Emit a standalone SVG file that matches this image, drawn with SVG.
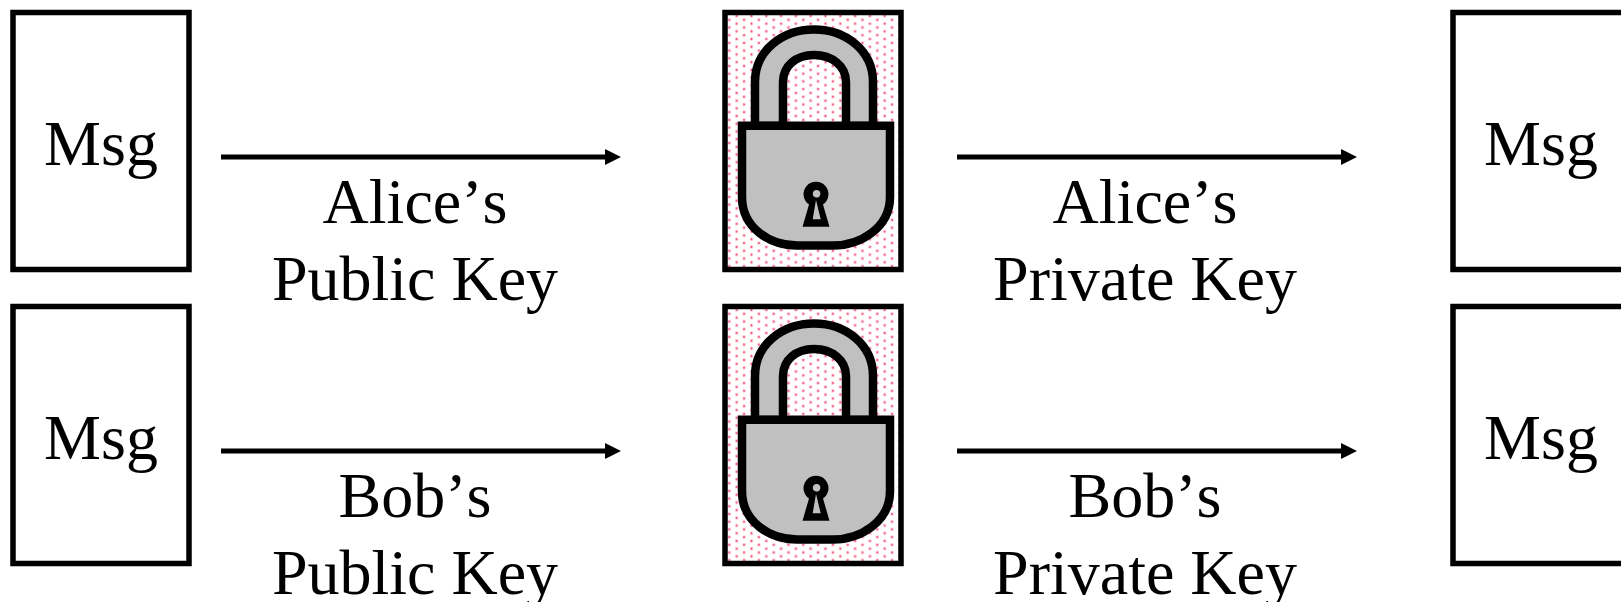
<svg xmlns="http://www.w3.org/2000/svg" width="1621" height="602" viewBox="0 0 1621 602">
<style>
.box{fill:#fff;stroke:#000;stroke-width:5.5}
.t{font-family:"Liberation Serif","Times New Roman",serif;font-size:64px;fill:#000;text-anchor:middle;font-kerning:none}
.conn{stroke:#000;stroke-width:5;fill:none;marker-end:url(#ah)}
.lk{fill:#c0c0c0;stroke:#000;stroke-width:8.500;stroke-linejoin:miter}
.h{fill:#fdd5de}
.c{fill:#f2406c}
</style>
<defs>
<marker id="ah" markerUnits="userSpaceOnUse" markerWidth="16" markerHeight="16" refX="0" refY="8" orient="auto"><path d="M0 0L16 8L0 16Z" fill="#000"/></marker>
<pattern id="dots" patternUnits="userSpaceOnUse" x="729.300" y="66" width="14.800" height="7.700">
<rect width="14.800" height="7.700" fill="#fff"/>
<circle class="h" cx="7.400" cy="3.850" r="1.900"/><circle class="c" cx="7.400" cy="3.850" r="0.950"/>
<circle class="h" cx="0" cy="0" r="1.900"/><circle class="h" cx="14.800" cy="0" r="1.900"/><circle class="h" cx="0" cy="7.700" r="1.900"/><circle class="h" cx="14.800" cy="7.700" r="1.900"/>
<circle class="c" cx="0" cy="0" r="0.950"/><circle class="c" cx="14.800" cy="0" r="0.950"/><circle class="c" cx="0" cy="7.700" r="0.950"/><circle class="c" cx="14.800" cy="7.700" r="0.950"/>
</pattern>
<g id="lock">
<rect class="box" x="725" y="12.500" width="176" height="257" style="fill:url(#dots)"/>
<path class="lk" d="M755 126V82C755 50 783 29.500 814 29.500C845 29.500 873 50 873 82V126H846V82C846 66 832 55 814 55C796 55 783 66 783 82V126Z"/>
<path class="lk" d="M742 125.700H890V197C890 228 860 245.500 833 245.500H797C770 245.500 742 228 742 197Z"/>
<path d="M809 204.500A12.500 12.500 0 1 1 823 204.500L829.500 226.700H802.500Z" fill="#000"/>
<path d="M816 197.500A3.800 3.800 0 1 0 816 190A3.800 3.800 0 0 0 816 197.500ZM816 200L812.700 219.300H820.700Z" fill="#c0c0c0"/>
</g>
</defs>
<g id="connectors">
<line class="conn" x1="221" y1="157" x2="605" y2="157"/>
<line class="conn" x1="957" y1="157" x2="1341" y2="157"/>
<line class="conn" x1="221" y1="451" x2="605" y2="451"/>
<line class="conn" x1="957" y1="451" x2="1341" y2="451"/>
</g>
<g id="msg-a-left"><rect class="box" x="13" y="12.500" width="176" height="257"/><text class="t" x="101" y="165">Msg</text></g>
<g id="msg-b-left"><rect class="box" x="13" y="306.500" width="176" height="257"/><text class="t" x="101" y="459">Msg</text></g>
<g id="cipher-a"><use href="#lock"/></g>
<g id="cipher-b"><use href="#lock" y="294"/></g>
<g id="msg-a-right"><rect class="box" x="1453" y="12.500" width="176" height="257"/><text class="t" x="1541" y="165">Msg</text></g>
<g id="msg-b-right"><rect class="box" x="1453" y="306.500" width="176" height="257"/><text class="t" x="1541" y="459">Msg</text></g>
<g id="labels">
<text class="t" x="415" y="223">Alice’s</text>
<text class="t" x="415" y="300">Public Key</text>
<text class="t" x="1145" y="223">Alice’s</text>
<text class="t" x="1145" y="300">Private Key</text>
<text class="t" x="415" y="517">Bob’s</text>
<text class="t" x="415" y="594">Public Key</text>
<text class="t" x="1145" y="517">Bob’s</text>
<text class="t" x="1145" y="594">Private Key</text>
</g>
</svg>
